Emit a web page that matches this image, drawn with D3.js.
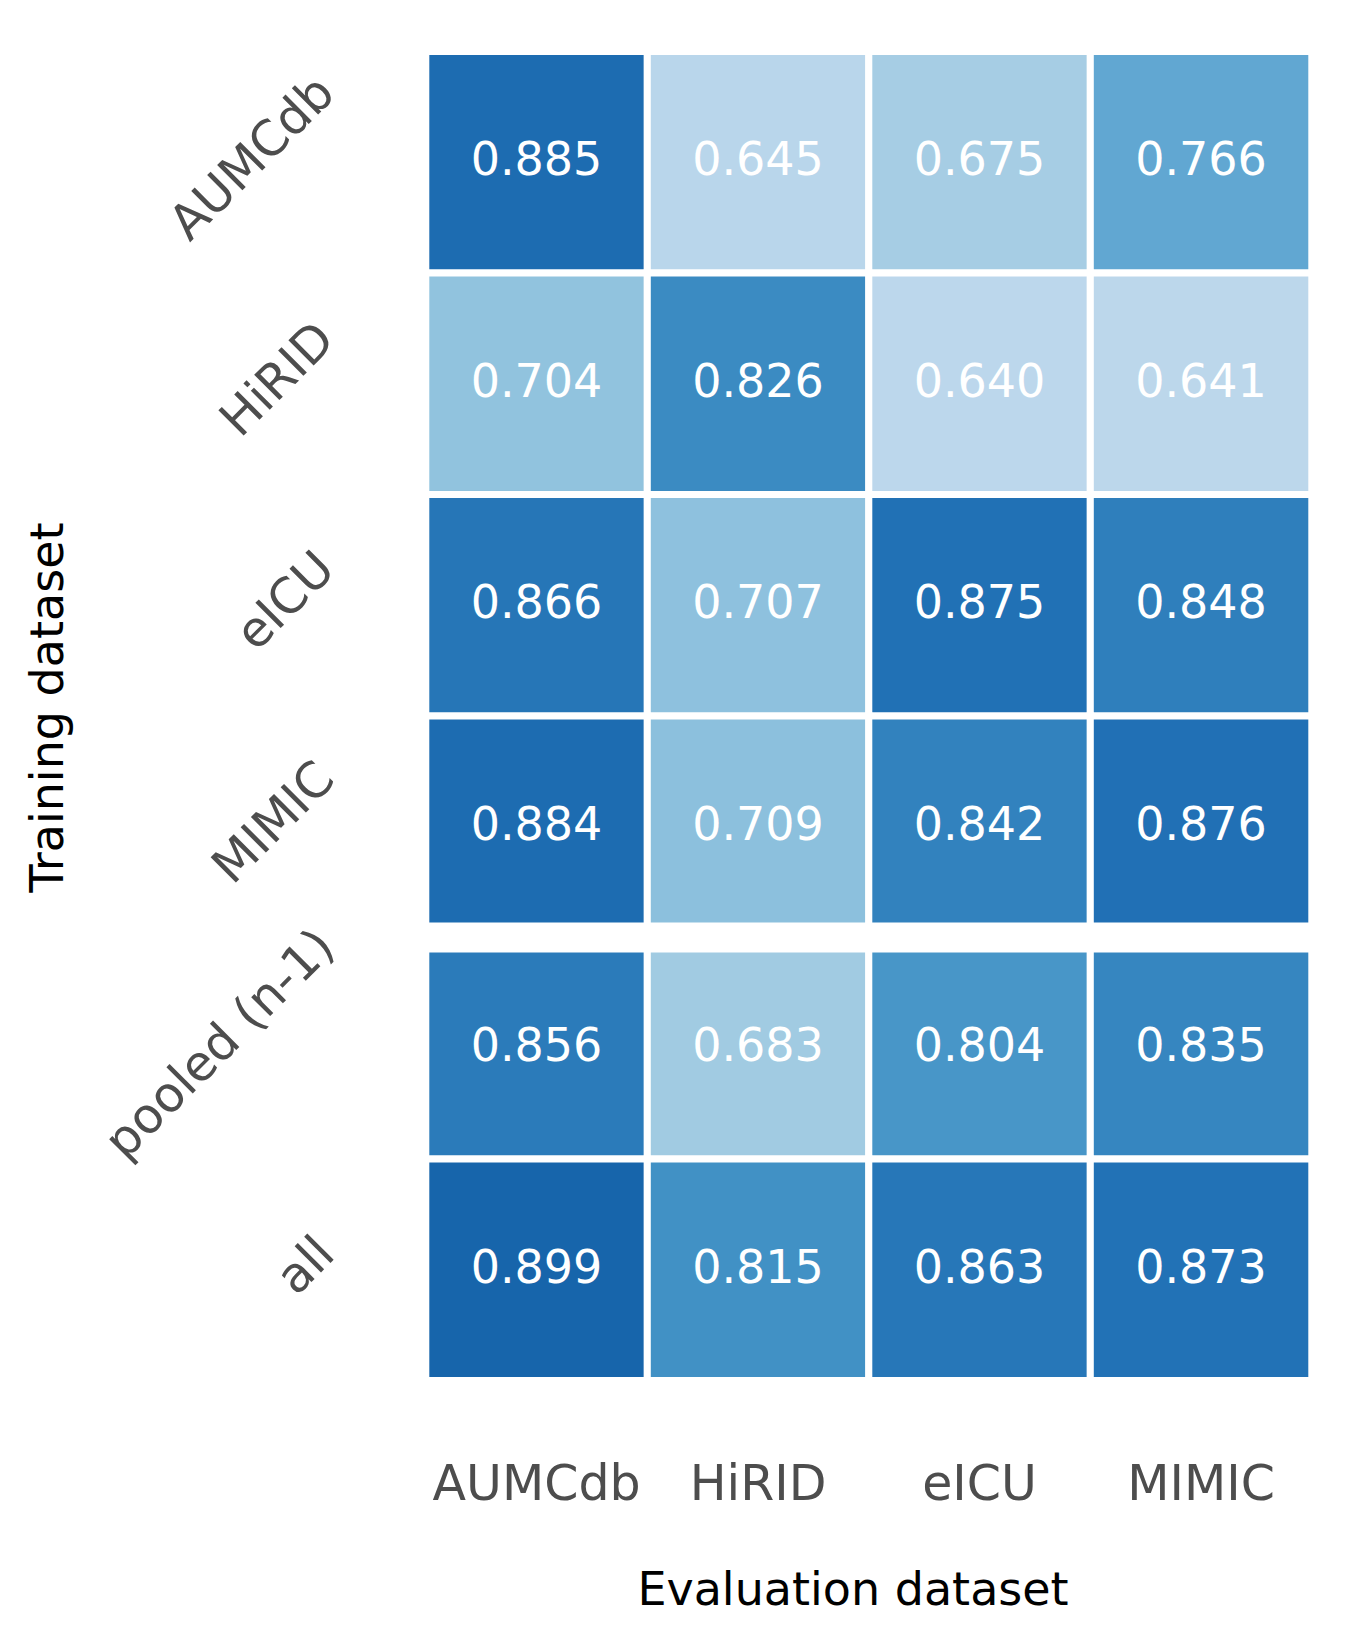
<!DOCTYPE html>
<html>
<head>
<meta charset="utf-8">
<script src="https://cdn.jsdelivr.net/npm/d3@7"></script>
<style>
  html, body { margin: 0; padding: 0; background: #ffffff; }
  svg { display: block; font-family: "DejaVu Sans", sans-serif; }
</style>
</head>
<body>
<svg id="chart" width="1362" height="1644"></svg>
<script>
// ---- data ----
const trainingSets = ["AUMCdb", "HiRID", "eICU", "MIMIC", "pooled (n-1)", "all"];
const evaluationSets = ["AUMCdb", "HiRID", "eICU", "MIMIC"];
const rowAUMCdb = [0.885, 0.645, 0.675, 0.766];
const rowHiRID  = [0.704, 0.826, 0.640, 0.641];
const rowEICU   = [0.866, 0.707, 0.875, 0.848];
const rowMIMIC  = [0.884, 0.709, 0.842, 0.876];
const rowPooled = [0.856, 0.683, 0.804, 0.835];
const rowAll    = [0.899, 0.815, 0.863, 0.873];
const valueRows = [rowAUMCdb, rowHiRID, rowEICU, rowMIMIC, rowPooled, rowAll];
const colorDomain = [0.5, 1.0];
const xTitle = "Evaluation dataset";
const yTitle = "Training dataset";

// ---- layout ----
const plotLeft = 425.8, plotRight = 1311.8, plotTop = 51.5, plotBottom = 1380.5;
const svg = d3.select("#chart");

const x = d3.scaleBand().domain(evaluationSets.map((d, i) => i)).range([plotLeft, plotRight]).padding(0);
const y = d3.scaleBand().domain(trainingSets.map((d, i) => i)).range([plotTop, plotBottom]).padding(0);

const bluesStops = ["#f7fbff", "#deebf7", "#c6dbef", "#9ecae1", "#6baed6", "#4292c6", "#2171b5", "#08519c", "#08306b"];
const bluesInterp = d3.piecewise(d3.interpolateRgb, bluesStops);
const norm = d3.scaleLinear().domain(colorDomain).range([0, 1]).clamp(true);
const color = v => bluesInterp(norm(v));

const cells = [];
valueRows.forEach((row, r) => row.forEach((v, c) => cells.push({ r, c, v })));

// cells
svg.append("g").selectAll("rect").data(cells).join("rect")
  .attr("x", d => x(d.c))
  .attr("y", d => y(d.r))
  .attr("width", x.bandwidth())
  .attr("height", y.bandwidth())
  .attr("fill", d => color(d.v))
  .attr("stroke", "#ffffff")
  .attr("stroke-width", 7);

// separator between single-dataset rows and pooled rows
svg.append("line")
  .attr("x1", plotLeft - 5).attr("x2", plotRight + 5)
  .attr("y1", y(4)).attr("y2", y(4))
  .attr("stroke", "#ffffff").attr("stroke-width", 30);

// annotations
const annFs = 46;
svg.append("g").selectAll("text").data(cells).join("text")
  .attr("x", d => x(d.c) + x.bandwidth() / 2)
  .attr("y", d => y(d.r) + y.bandwidth() / 2 + 12.8)
  .attr("text-anchor", "middle")
  .attr("font-size", annFs)
  .attr("fill", "#ffffff")
  .text(d => d.v.toFixed(3));

// x axis
const tickFs = 49;
const xAxis = d3.axisBottom(x).tickSize(0).tickFormat(i => evaluationSets[i]);
const gx = svg.append("g").attr("transform", `translate(0,${plotBottom})`).call(xAxis);
gx.select(".domain").remove();
gx.selectAll("text")
  .attr("y", 1500 - plotBottom).attr("dy", 0)
  .attr("font-size", tickFs)
  .attr("font-family", "DejaVu Sans")
  .attr("fill", "#4d4d4d");

// y axis (labels rotated 45deg, bbox right-aligned, centered on row)
const yAxis = d3.axisLeft(y).tickSize(0).tickFormat(i => trainingSets[i]);
const gy = svg.append("g").attr("transform", `translate(${plotLeft},0)`).call(yAxis);
gy.select(".domain").remove();
const anchorX = 337 - plotLeft;
const asc = 0.76 * tickFs, desc = 0.24 * tickFs;
gy.selectAll("text")
  .attr("font-size", tickFs)
  .attr("font-family", "DejaVu Sans")
  .attr("fill", "#4d4d4d")
  .attr("text-anchor", "end")
  .attr("x", 0).attr("y", 0).attr("dy", 0)
  .each(function () {
    const L = this.getComputedTextLength();
    const ay = -0.35355 * (L + desc - asc) - 2;
    d3.select(this).attr("transform", `translate(${anchorX},${ay}) rotate(-45)`);
  });

// axis titles
svg.append("text")
  .attr("x", 853).attr("y", 1605)
  .attr("text-anchor", "middle")
  .attr("font-size", 46)
  .attr("fill", "#000000")
  .text(xTitle);

svg.append("text")
  .attr("transform", "translate(63.3,707.5) rotate(-90)")
  .attr("text-anchor", "middle")
  .attr("font-size", 46)
  .attr("fill", "#000000")
  .text(yTitle);
</script>
</body>
</html>
